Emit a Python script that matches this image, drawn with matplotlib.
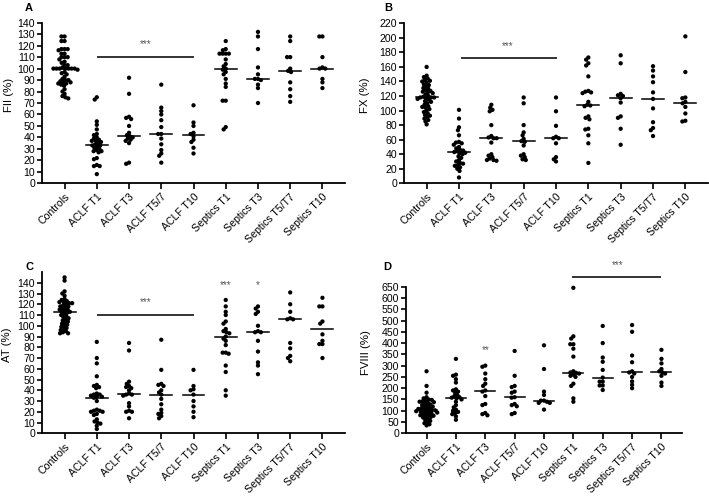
import numpy as np
import matplotlib
matplotlib.use("Agg")
import matplotlib.pyplot as plt

plt.rcParams['font.family'] = ['Liberation Sans', 'DejaVu Sans']

categories = ["Controls", "ACLF T1", "ACLF T3", "ACLF T5/7", "ACLF T10",
              "Septics T1", "Septics T3", "Septics T5/T7", "Septics T10"]

# ---- Panel A: FII (%) ----
fii = [
    [128, 128, 124, 124, 117, 117, 117, 116, 113, 113, 110, 110, 110, 108, 106, 105, 103, 103,
     101, 100, 100, 100, 100, 100, 100, 100, 99, 97, 96, 95, 93, 91, 90, 90, 89, 88, 88, 87,
     87, 86, 85, 82, 80, 78, 76, 75, 74],
    [75, 73, 54, 51, 47, 43, 42, 40, 39, 38, 37, 37, 36, 35, 34, 33, 33, 32, 31, 30, 29, 28,
     28, 27, 22, 21, 16, 15, 15, 8],
    [92, 78, 58, 57, 56, 50, 44, 42, 41, 40, 39, 38, 37, 35, 18, 17],
    [86, 66, 63, 60, 55, 49, 43, 43, 39, 34, 29, 26, 24, 18],
    [68, 53, 50, 44, 43, 41, 38, 36, 31, 26],
    [124, 117, 116, 113, 113, 113, 113, 108, 104, 102, 100, 99, 97, 95, 91, 87, 84, 72, 72, 49, 47],
    [132, 128, 117, 101, 95, 91, 91, 90, 86, 83, 70],
    [128, 124, 110, 110, 100, 98, 97, 88, 82, 76, 71],
    [128, 128, 110, 101, 100, 100, 91, 88, 83],
]

# ---- Panel B: FX (%) ----
fx = [
    [160, 148, 146, 144, 142, 141, 140, 138, 136, 135, 133, 131, 130, 128, 127, 126, 125, 124,
     122, 120, 119, 118, 118, 118, 117, 116, 115, 113, 112, 110, 108, 106, 105, 104, 102, 100,
     98, 96, 94, 93, 91, 89, 87, 85, 81],
    [101, 89, 77, 73, 66, 57, 56, 55, 53, 50, 48, 46, 45, 44, 43, 42, 41, 40, 37, 35, 32, 30,
     28, 27, 25, 24, 22, 20, 17, 8],
    [108, 104, 101, 99, 80, 65, 63, 62, 62, 56, 40, 38, 36, 34, 32, 32, 31],
    [118, 110, 80, 70, 66, 61, 58, 57, 52, 40, 38, 36, 33, 32],
    [118, 99, 79, 64, 62, 62, 55, 36, 33, 30],
    [173, 170, 165, 162, 147, 127, 126, 125, 124, 112, 108, 107, 106, 92, 90, 88, 75, 74, 66, 55, 28],
    [176, 165, 123, 121, 120, 117, 111, 92, 90, 75, 53],
    [161, 155, 147, 139, 125, 116, 103, 84, 76, 73, 65],
    [202, 153, 118, 117, 112, 110, 105, 96, 86, 85],
]

# ---- Panel C: AT (%) ----
at = [
    [145, 142, 132, 130, 128, 125, 124, 123, 122, 122, 121, 121, 120, 119, 118, 118, 117, 116,
     115, 115, 114, 113, 113, 112, 111, 110, 109, 108, 107, 106, 105, 104, 103, 102, 101, 100,
     99, 98, 97, 96, 95, 94, 93, 93],
    [85, 70, 65, 53, 45, 44, 43, 42, 37, 36, 36, 35, 34, 34, 33, 30, 22, 21, 21, 20, 20, 18,
     17, 13, 11, 10, 9, 7, 4],
    [84, 77, 48, 46, 44, 43, 42, 40, 37, 36, 36, 35, 28, 25, 21, 20, 20, 14],
    [87, 59, 46, 45, 44, 40, 38, 36, 32, 27, 22, 19, 18, 16, 14],
    [59, 44, 41, 40, 36, 30, 25, 20, 15],
    [124, 118, 113, 110, 104, 102, 97, 95, 94, 93, 90, 88, 86, 82, 75, 75, 74, 63, 57, 40, 35],
    [118, 116, 113, 111, 100, 95, 94, 94, 86, 76, 66, 63, 55],
    [131, 120, 113, 107, 106, 106, 84, 79, 72, 70, 67],
    [126, 118, 118, 104, 102, 92, 86, 83, 83, 70],
]

# ---- Panel D: FVIII (%) ----
fviii = [
    [275, 210, 180, 160, 155, 150, 148, 145, 142, 140, 138, 135, 130, 128, 125, 120, 118, 115,
     112, 110, 108, 105, 103, 102, 100, 98, 96, 95, 92, 90, 88, 85, 82, 80, 78, 75, 72, 70, 65,
     60, 55, 50, 45, 40, 35],
    [330, 260, 255, 240, 225, 195, 190, 185, 180, 170, 165, 160, 158, 155, 150, 140, 125, 115,
     105, 100, 95, 90, 85, 75, 60],
    [300, 295, 265, 240, 220, 210, 190, 185, 165, 130, 125, 90, 85, 80],
    [365, 255, 210, 205, 185, 180, 160, 158, 130, 125, 120, 90, 85],
    [390, 285, 185, 170, 145, 145, 140, 135, 135, 105],
    [645, 430, 420, 395, 395, 375, 340, 275, 270, 268, 265, 260, 255, 250, 220, 210, 155, 140],
    [476, 400, 336, 317, 281, 247, 229, 229, 212, 212, 192],
    [480, 450, 345, 315, 275, 270, 265, 250, 230, 215, 200],
    [370, 330, 310, 285, 275, 270, 265, 255, 225, 210],
]

ylabels = ["FII (%)", "FX (%)", "AT (%)", "FVIII (%)"]
ylims = [(0, 140), (0, 220), (0, 150), (0, 650)]
yticks = [np.arange(0, 141, 10), np.arange(0, 221, 20), np.arange(0, 141, 10), np.arange(0, 651, 50)]

W, H = 709, 496
fig = plt.figure(figsize=(W / 100, H / 100), dpi=100)


def px_rect(left, top, right, bottom):
    return [left / W, 1 - bottom / H, (right - left) / W, (bottom - top) / H]


rects = [px_rect(42, 22.7, 345, 183.3), px_rect(404, 23.3, 708, 183.3),
         px_rect(42, 272, 345, 433.3), px_rect(406, 286.7, 682, 433.3)]
ylabel_x = [-0.092, -0.112, -0.100, -0.128]
letters = ["A", "B", "C", "D"]
letter_pos = [(29, 8), (388, 8), (29, 267), (387, 267)]

DOT_PX = 3.1


def swarm_offsets(vals, px_per_y, d):
    vals = np.asarray(vals, float)
    ys = vals * px_per_y
    order = np.argsort(-vals, kind="stable")
    placed_x, placed_y = [], []
    xs = np.zeros(len(vals))
    for i in order:
        y = ys[i]
        cands = [0.0]
        for xj, yj in zip(placed_x, placed_y):
            dy = abs(y - yj)
            if dy < d:
                dx = np.sqrt(d * d - dy * dy)
                cands += [xj + dx, xj - dx]
        cands = sorted(cands, key=lambda c: (abs(c), c))
        for c in cands:
            ok = True
            for xj, yj in zip(placed_x, placed_y):
                if (c - xj) ** 2 + (y - yj) ** 2 < d * d - 1e-6:
                    ok = False
                    break
            if ok:
                xs[i] = c
                break
        placed_x.append(xs[i])
        placed_y.append(y)
    return xs


datasets = [fii, fx, at, fviii]
axes = []
for k in range(4):
    ax = fig.add_axes(rects[k])
    axes.append(ax)
    data = datasets[k]
    ax.set_xlim(-0.7, 8.7)
    ax.set_ylim(*ylims[k])
    bbox_w = rects[k][2] * W
    bbox_h = rects[k][3] * H
    px_per_x = bbox_w / 9.4
    px_per_y = bbox_h / (ylims[k][1] - ylims[k][0])
    for i, vals in enumerate(data):
        offs = swarm_offsets(vals, px_per_y, DOT_PX) / px_per_x
        ax.scatter(i + offs, vals, s=9.5, color="black", edgecolors="none", zorder=3, clip_on=False)
        med = np.median(vals)
        ax.plot([i - 0.34, i + 0.34], [med, med], color="black", lw=1.1, zorder=2)
    ax.set_xticks(range(len(categories)))
    ax.set_xticklabels(categories, rotation=45, ha="right", va="top", rotation_mode="anchor",
                       fontsize=7.6)
    ax.set_yticks(yticks[k])
    ax.tick_params(axis="y", labelsize=7.6, length=3.5, width=1.2, pad=1.5)
    ax.tick_params(axis="x", length=4, width=1.2, pad=2)
    for s in ["top", "right"]:
        ax.spines[s].set_visible(False)
    for s in ["left", "bottom"]:
        ax.spines[s].set_linewidth(1.3)
    ax.set_ylabel(ylabels[k], fontsize=8.2)
    ax.yaxis.set_label_coords(ylabel_x[k], 0.55)
    fig.text(letter_pos[k][0] / W, 1 - letter_pos[k][1] / H, letters[k], fontsize=8,
             fontweight="bold", ha="center", va="center")

grey = "#555555"
# Panel A significance
axes[0].plot([1.05, 3.97], [110, 110], color="#333333", lw=1.4)
axes[0].text(2.5, 121, "***", ha="center", va="center", fontsize=7, color=grey)
# Panel B
axes[1].plot([1.08, 4.0], [172, 172], color="#333333", lw=1.4)
axes[1].text(2.5, 188, "***", ha="center", va="center", fontsize=7, color=grey)
# Panel C
axes[2].plot([1.05, 3.97], [110, 110], color="#333333", lw=1.4)
axes[2].text(2.5, 122, "***", ha="center", va="center", fontsize=7, color=grey)
axes[2].text(5, 138, "***", ha="center", va="center", fontsize=7, color=grey)
axes[2].text(6, 138, "*", ha="center", va="center", fontsize=7, color=grey)
# Panel D
axes[3].plot([5.0, 7.94], [693, 693], color="#333333", lw=1.4, clip_on=False)
axes[3].text(6.5, 748, "***", ha="center", va="center", fontsize=7, color=grey, clip_on=False)
axes[3].text(2, 368, "**", ha="center", va="center", fontsize=7, color=grey)

fig.savefig("out.png", dpi=100)
